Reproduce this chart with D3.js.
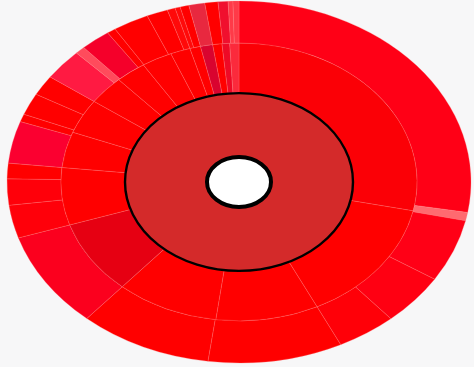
<!DOCTYPE html>
<html>
<head>
<meta charset="utf-8">
<script src="https://cdn.jsdelivr.net/npm/d3@7"></script>
<style>
  html, body { margin: 0; padding: 0; background: #f7f7f8; overflow: hidden; }
  svg { filter: blur(0.5px); }
</style>
</head>
<body>
<div id="wrapper"></div>
<script>
// slice sizes in degrees
const middleValues = [102, 52, 33.5, 33.5, 31, 24, 15, 14.5, 12, 10, 10, 6.5, 3.5, 4, 3, 2.5, 3];
const middleColors = ["#fb0006", "#ff0000", "#ff0000", "#ff0000", "#e60012", "#ff0000", "#ff0000", "#ff0000", "#ff0000", "#ff0000", "#ff0000", "#ff0000", "#ff0000", "#d9042f", "#ff0000", "#ee0a26", "#fb2a3c"];
const outerValues = [99.7, 2.7, 20.1, 16.6, 14.9, 33.7, 33.3, 31, 10.6, 8.4, 5, 13.5, 2.5, 7, 6.5, 10, 2.5, 7.5, 2.2, 9, 5.3, 2, 1.3, 2.2, 4, 3.3, 2.5, 1.2, 1.5];
const outerColors = ["#ff0016", "#ff6a70", "#ff0016", "#ff0012", "#ff0008", "#ff0000", "#ff0000", "#fb001e", "#ff000a", "#ff000a", "#ff0000", "#fb0030", "#ff0000", "#ff0000", "#ff0000", "#ff1a42", "#ff4b5c", "#f5002a", "#ff0000", "#ff0000", "#ff0000", "#ff0a0a", "#ff0a0a", "#ff0000", "#e8283f", "#ff0000", "#f0102e", "#ff3a48", "#ff3a48"];
const rootColor = "#d42a2a";

const dimensions = {
  width: 474,
  height: 367,
  cx: 239,
  cy: 182,
  yScale: 0.78
};

const wrapper = d3.select("#wrapper")
  .append("svg")
  .attr("width", dimensions.width)
  .attr("height", dimensions.height);

const bounds = wrapper.append("g")
  .attr("transform", `translate(${dimensions.cx}, ${dimensions.cy}) scale(1, ${dimensions.yScale})`);

const pie = d3.pie().sort(null).value((d) => d);
const arc = d3.arc();

const drawRing = (values, colors, inner, outer) => {
  bounds.append("g")
    .selectAll("path")
    .data(pie(values))
    .join("path")
    .attr("d", (d) => arc({ ...d, innerRadius: inner, outerRadius: outer }))
    .attr("fill", (d, i) => colors[i])
    .attr("stroke", "#ff7f7f")
    .attr("stroke-opacity", 0.35)
    .attr("stroke-width", 0.8)
    .attr("vector-effect", "non-scaling-stroke");
};

drawRing(outerValues, outerColors, 178, 232);
drawRing(middleValues, middleColors, 114, 178);

// root ring and white centre have the black outline
bounds.append("path")
  .attr("d", arc({ startAngle: 0, endAngle: 2 * Math.PI, innerRadius: 32, outerRadius: 114 }))
  .attr("fill", rootColor)
  .attr("stroke", "#000")
  .attr("stroke-width", 2.4)
  .attr("vector-effect", "non-scaling-stroke");

bounds.append("circle")
  .attr("r", 32)
  .attr("fill", "#fff")
  .attr("stroke", "#000")
  .attr("stroke-width", 4)
  .attr("vector-effect", "non-scaling-stroke");
</script>
</body>
</html>
